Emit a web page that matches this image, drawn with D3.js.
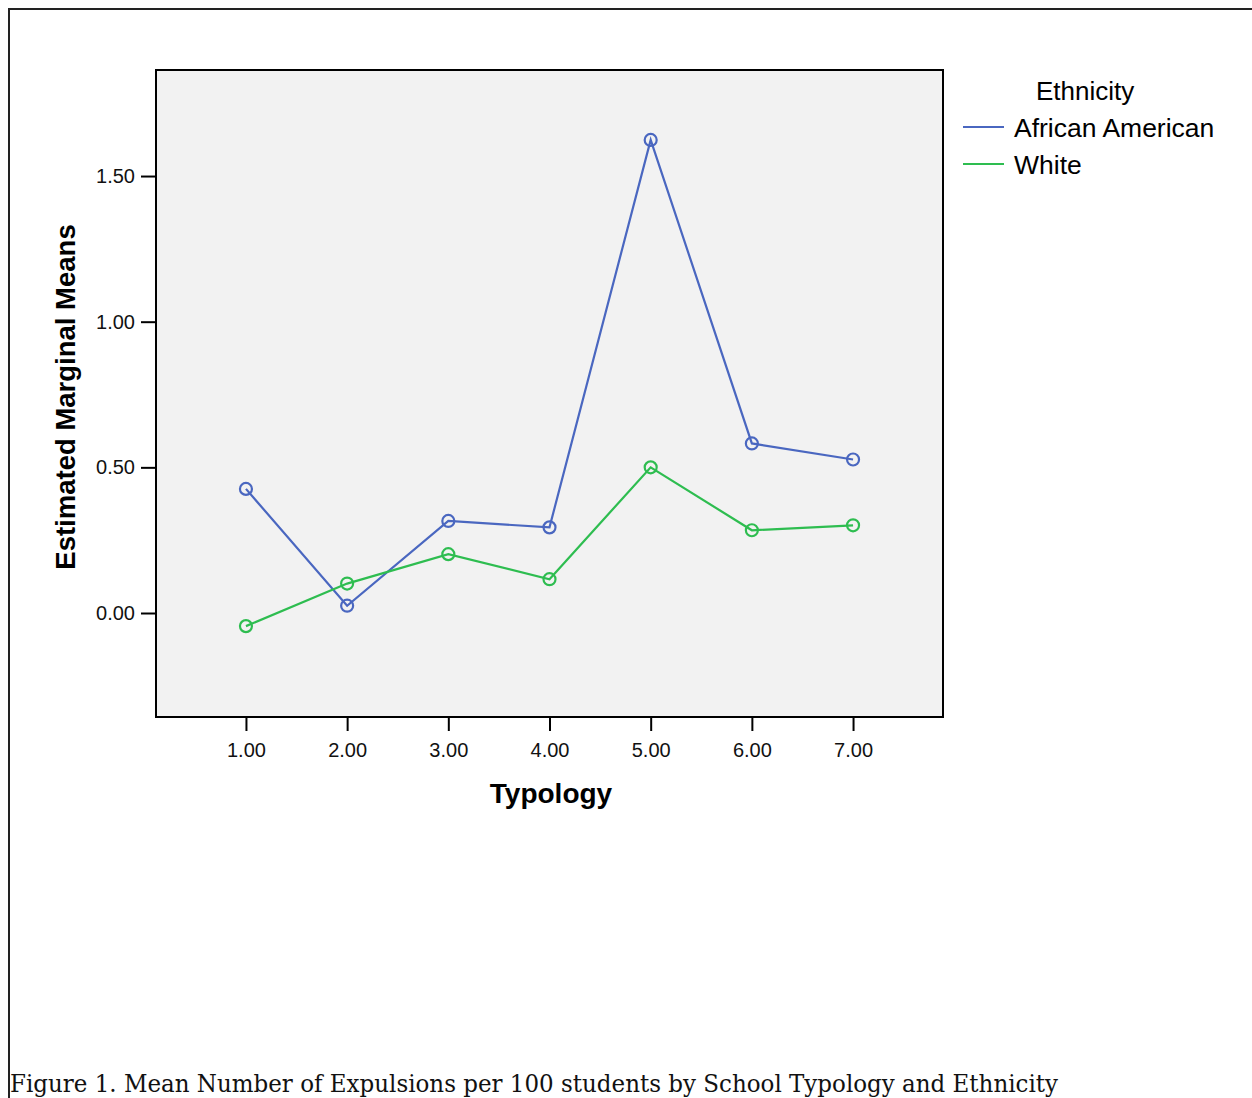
<!DOCTYPE html>
<html>
<head>
<meta charset="utf-8">
<script src="https://cdn.jsdelivr.net/npm/d3@7"></script>
<style>
  html, body { margin: 0; padding: 0; background: #fff; }
  svg { display: block; }
  .tick text { font-family: "Liberation Sans", Arial, sans-serif; font-size: 20px; fill: #111; }
</style>
</head>
<body>
<svg id="chart" width="1252" height="1098"></svg>
<script>
// Estimated marginal means.
var typology = [1, 2, 3, 4, 5, 6, 7];
var africanAmerican = [0.426, 0.025, 0.316, 0.294, 1.624, 0.582, 0.527];
var white = [-0.045, 0.101, 0.202, 0.116, 0.500, 0.284, 0.301];
var yTicks = [0, 0.5, 1.0, 1.5];
var seriesNames = ["African American", "White"];
var seriesColors = ["#4a67c0", "#2ebd50"];

(function () {
  var svg = d3.select("#chart");
  var plot = { left: 156, top: 70, right: 943, bottom: 717 };

  // outer frame (only top and left edges are visible in the figure)
  svg.append("path")
    .attr("d", "M9,1098 V9 H1252")
    .attr("fill", "none").attr("stroke", "#222").attr("stroke-width", 2);

  var x = d3.scaleLinear().domain([0.111, 7.889]).range([plot.left, plot.right]);
  var y = d3.scaleLinear().domain([-0.357, 1.864]).range([plot.bottom, plot.top]);

  svg.append("rect")
    .attr("x", plot.left).attr("y", plot.top)
    .attr("width", plot.right - plot.left).attr("height", plot.bottom - plot.top)
    .attr("fill", "#f2f2f2").attr("stroke", "#000").attr("stroke-width", 2);

  var yAxis = svg.append("g")
    .attr("transform", "translate(" + plot.left + ",0)")
    .call(d3.axisLeft(y).tickValues(yTicks).tickFormat(d3.format(".2f")).tickSize(15).tickPadding(6));
  yAxis.select(".domain").remove();
  yAxis.selectAll(".tick line").attr("stroke", "#000").attr("stroke-width", 2);

  var xAxis = svg.append("g")
    .attr("transform", "translate(0," + plot.bottom + ")")
    .call(d3.axisBottom(x).tickValues(typology).tickFormat(d3.format(".2f")).tickSize(14).tickPadding(12));
  xAxis.select(".domain").remove();
  xAxis.selectAll(".tick line").attr("stroke", "#000").attr("stroke-width", 2);

  svg.append("text")
    .attr("x", 551).attr("y", 803)
    .attr("text-anchor", "middle")
    .style("font-family", "Liberation Sans, Arial, sans-serif")
    .style("font-size", "28px").style("font-weight", "bold")
    .text("Typology");

  svg.append("text")
    .attr("transform", "translate(75,397) rotate(-90)")
    .attr("text-anchor", "middle")
    .style("font-family", "Liberation Sans, Arial, sans-serif")
    .style("font-size", "27.5px").style("font-weight", "bold")
    .text("Estimated Marginal Means");

  var line = d3.line()
    .x(function (d) { return x(d.t); })
    .y(function (d) { return y(d.v); });

  [africanAmerican, white].forEach(function (vals, i) {
    var pts = typology.map(function (t, j) { return { t: t, v: vals[j] }; });
    var g = svg.append("g");
    g.append("path").datum(pts)
      .attr("d", line)
      .attr("fill", "none").attr("stroke", seriesColors[i]).attr("stroke-width", 2.2);
    g.selectAll("circle").data(pts).join("circle")
      .attr("cx", function (d) { return x(d.t); })
      .attr("cy", function (d) { return y(d.v); })
      .attr("r", 6)
      .attr("fill", "none").attr("stroke", seriesColors[i]).attr("stroke-width", 2.2);
  });

  // legend
  var lg = svg.append("g").style("font-family", "Liberation Sans, Arial, sans-serif");
  lg.append("text").attr("x", 1036).attr("y", 100).style("font-size", "26px").text("Ethnicity");
  seriesNames.forEach(function (name, i) {
    var yy = 127 + i * 37;
    lg.append("line").attr("x1", 963).attr("x2", 1004).attr("y1", yy).attr("y2", yy)
      .attr("stroke", seriesColors[i]).attr("stroke-width", 2.2);
    lg.append("text").attr("x", 1014).attr("y", yy + 10).style("font-size", "26.5px").text(name);
  });

  svg.append("text")
    .attr("x", 10).attr("y", 1092)
    .attr("textLength", 1048).attr("lengthAdjust", "spacingAndGlyphs")
    .style("font-family", "DejaVu Serif, Georgia, serif")
    .style("font-size", "24px").style("fill", "#111")
    .text("Figure 1. Mean Number of Expulsions per 100 students by School Typology and Ethnicity");
})();
</script>
</body>
</html>
